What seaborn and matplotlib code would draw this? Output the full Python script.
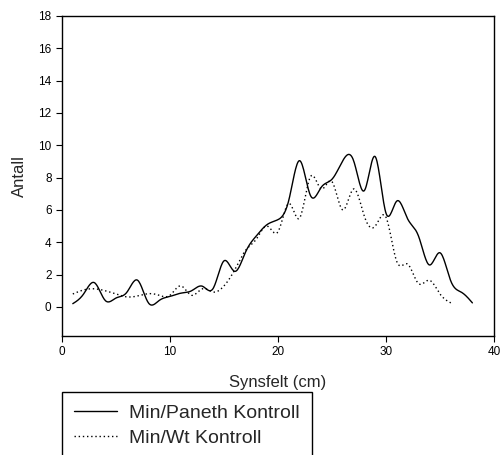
import numpy as np
import pandas as pd
import matplotlib
matplotlib.use("Agg")
import matplotlib.pyplot as plt
import seaborn as sns

# Counts per field-of-view position (cm)
synsfelt_paneth = [1, 2, 3, 4, 5, 6, 7, 8, 9, 10, 11, 12, 13, 14, 15, 16, 17, 18, 19,
                   20, 21, 22, 23, 24, 25, 26, 27, 28, 29, 30, 31, 32, 33, 34, 35, 36, 37, 38]
antall_paneth = [0.2, 0.8, 1.5, 0.4, 0.55, 0.9, 1.65, 0.25, 0.4, 0.65, 0.85, 1.0, 1.28, 1.15,
                 2.85, 2.2, 3.4, 4.4, 5.1, 5.4, 6.6, 9.05, 6.9, 7.4, 7.9, 9.05, 9.05, 7.2, 9.3,
                 5.8, 6.55, 5.45, 4.4, 2.6, 3.35, 1.6, 0.9, 0.25]

synsfelt_wt = [1, 2, 3, 4, 5, 6, 7, 8, 9, 10, 11, 12, 13, 14, 15, 16, 17, 18,
               19, 20, 21, 22, 23, 24, 25, 26, 27, 28, 29, 30, 31, 32, 33, 34, 35, 36]
antall_wt = [0.8, 1.05, 1.12, 1.0, 0.8, 0.62, 0.68, 0.82, 0.72, 0.72, 1.3, 0.72, 1.12, 0.92,
             1.3, 2.3, 3.5, 4.2, 5.0, 4.65, 6.4, 5.5, 8.05, 7.3, 7.75, 6.0, 7.3, 5.6, 5.0,
             5.55, 2.8, 2.65, 1.45, 1.65, 0.8, 0.25]

series_names = ["Min/Paneth Kontroll", "Min/Wt Kontroll"]
x_ticks = [0, 10, 20, 30, 40]
y_ticks = [0, 2, 4, 6, 8, 10, 12, 14, 16, 18]


def natural_spline(x, y, num=600):
    """Smooth spline curve through the measured points (for drawing)."""
    x = np.asarray(x, float)
    y = np.asarray(y, float)
    n = len(x)
    h = np.diff(x)
    A = np.zeros((n, n))
    b = np.zeros(n)
    A[0, 0] = A[-1, -1] = 1.0
    for i in range(1, n - 1):
        A[i, i - 1] = h[i - 1]
        A[i, i] = 2 * (h[i - 1] + h[i])
        A[i, i + 1] = h[i]
        b[i] = 3 * ((y[i + 1] - y[i]) / h[i] - (y[i] - y[i - 1]) / h[i - 1])
    c = np.linalg.solve(A, b)
    bb = (y[1:] - y[:-1]) / h - h * (2 * c[:-1] + c[1:]) / 3
    d = (c[1:] - c[:-1]) / (3 * h)
    xs = np.linspace(x[0], x[-1], num)
    idx = np.clip(np.searchsorted(x, xs, side="right") - 1, 0, n - 2)
    t = xs - x[idx]
    ys = y[idx] + bb[idx] * t + c[idx] * t ** 2 + d[idx] * t ** 3
    return xs, ys


sns.set_style("ticks")
plt.rcParams["font.family"] = ["Liberation Sans", "DejaVu Sans"]

fig = plt.figure(figsize=(5.01, 4.55), dpi=100)
ax = fig.add_axes([62 / 501, 1 - 336 / 455, (494 - 62) / 501, (336 - 16) / 455])

xs1, ys1 = natural_spline(synsfelt_paneth, antall_paneth)
xs2, ys2 = natural_spline(synsfelt_wt, antall_wt)
df1 = pd.DataFrame({"Synsfelt": xs1, "Antall": ys1})
df2 = pd.DataFrame({"Synsfelt": xs2, "Antall": ys2})

sns.lineplot(data=df1, x="Synsfelt", y="Antall", ax=ax, color="black", lw=1.0,
             label=series_names[0], legend=False)
sns.lineplot(data=df2, x="Synsfelt", y="Antall", ax=ax, color="black", lw=1.0,
             linestyle=(0, (1, 2)), label=series_names[1], legend=False)

ax.set_xlim(0, 40)
ax.set_ylim(-1.8, 18)
ax.set_xticks(x_ticks)
ax.set_yticks(y_ticks)
ax.tick_params(axis="both", direction="out", length=4, width=0.8, labelsize=8.5,
               colors="black", top=False, right=False)
for sp in ax.spines.values():
    sp.set_visible(True)
    sp.set_color("black")
    sp.set_linewidth(1.0)

ax.set_xlabel("Synsfelt (cm)", fontsize=12, labelpad=12)
ax.set_ylabel("Antall", fontsize=12, labelpad=8.5)

handles, labels = ax.get_legend_handles_labels()
leg = fig.legend(handles, labels, loc="upper left",
                 bbox_to_anchor=(61.5 / 501, 1 - 391.5 / 455),
                 bbox_transform=fig.transFigure, fontsize=14, frameon=True,
                 fancybox=False, edgecolor="black", framealpha=1,
                 handlelength=2.2, handletextpad=0.62, labelspacing=0.4,
                 borderpad=0.65, borderaxespad=0)
leg.get_frame().set_linewidth(1.0)

fig.savefig("out.png", dpi=100)
